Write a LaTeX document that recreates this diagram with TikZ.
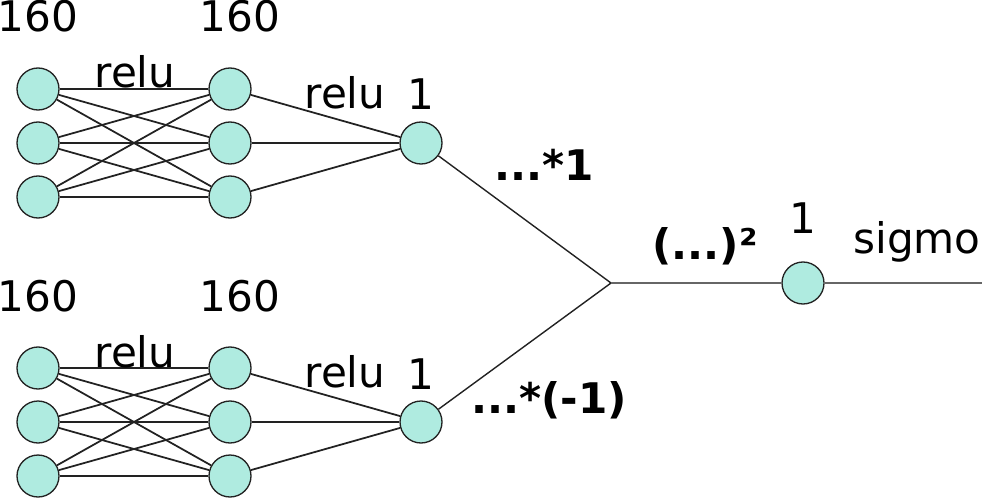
\documentclass[tikz,border=0pt]{standalone}
\usepackage{fontspec}
\setmainfont{DejaVu Sans}
\usetikzlibrary{positioning}
\definecolor{neuron}{HTML}{AFEBE0}
\definecolor{wire}{HTML}{222222}
\definecolor{trunk}{HTML}{666666}

\begin{document}
\begin{tikzpicture}[x=0.02cm,y=-0.02cm,
  nrn/.style={circle,draw=wire,line width=0.75pt,fill=neuron,minimum size=0.84cm,inner sep=0pt},
  lbl/.style={anchor=base,inner sep=0pt,font=\fontsize{24}{28}\selectfont},
  blbl/.style={lbl,font=\fontsize{24}{28}\selectfont\bfseries},
  edge/.style={wire,line width=1pt},
  main/.style={trunk,line width=1.2pt}]
  \useasboundingbox (0,0) rectangle (982,500);
  \foreach \net/\dy in {a/0,b/279}{
    \foreach \i/\y in {1/89,2/143,3/197}{
      \node[nrn] (\net-in\i)  at (38,\y+\dy)  {};
      \node[nrn] (\net-hid\i) at (230,\y+\dy) {};
    }
    \node[nrn] (\net-out) at (421,143+\dy) {};
    \foreach \i in {1,2,3}{
      \foreach \j in {1,2,3}
        \draw[edge] (\net-in\i) -- (\net-hid\j);
      \draw[edge] (\net-hid\i) -- (\net-out);
    }
    \node[lbl] (\net-nin)  at (38,32+\dy)  {160};
    \node[lbl] (\net-nhid) at (240,32+\dy) {160};
    \node[lbl] (\net-act1) at (135,88+\dy) {relu};
    \node[lbl] (\net-act2) at (345,108+\dy) {relu};
    \node[lbl] (\net-nout) at (421,110+\dy) {1};
  }
  \coordinate (join) at (611,283);
  \node[nrn] (sig) at (803,283) {};
  \coordinate (end) at (982,283);
  \draw[edge,line width=0.8pt] (a-out) -- (join);
  \draw[edge,line width=0.8pt] (b-out) -- (join);
  \draw[main] (join) -- (sig);
  \draw[main] (sig) -- (end);
  \node[blbl] (wpos) at (544,180) {...*1};
  \node[blbl] (wneg) at (549,413) {...*(-1)};
  \node[blbl] (sq)   at (705,259) {(...)²};
  \node[lbl]  (nsig) at (803,233) {1};
  \node[lbl,anchor=base west] (act3) at (853,253) {sigmo};
\end{tikzpicture}
\end{document}
